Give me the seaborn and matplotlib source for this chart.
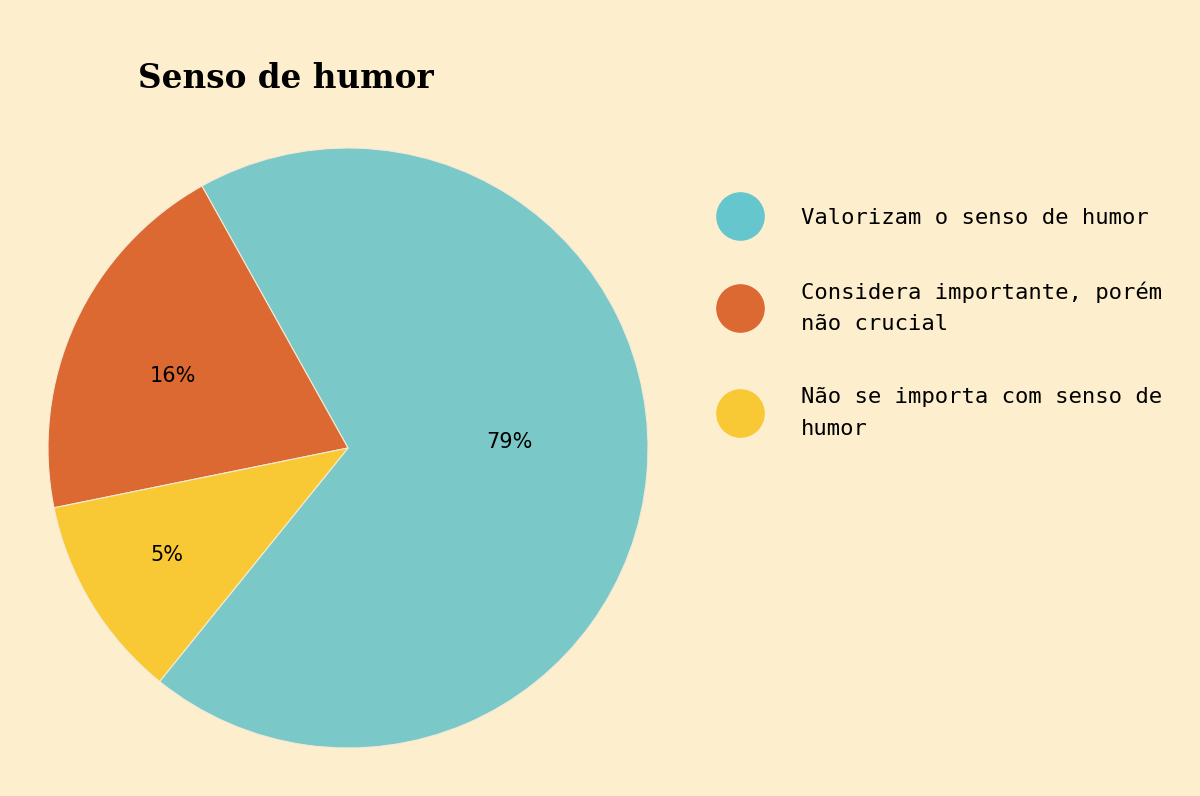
import matplotlib
matplotlib.use("Agg")
import numpy as np
import matplotlib.pyplot as plt
import seaborn as sns
from matplotlib.lines import Line2D

# datos (ángulos de los sectores) y etiquetas mostradas
categorias = ["Valorizam o senso de humor",
              "Considera importante, porém\nnão crucial",
              "Não se importa com senso de\nhumor"]
valores = [68.9, 20.1, 11.0]
etiquetas = ["79%", "16%", "5%"]

colores_pie = ["#7BC8C9", "#DC6832", "#F8C934"]
colores_leyenda = ["#65C6CE", "#DC6832", "#F8C934"]
fondo = "#FDEECE"

sns.set_theme(style="white")
plt.rcParams["font.family"] = ["DejaVu Sans"]
plt.rcParams["text.color"] = "black"

fig = plt.figure(figsize=(12, 7.96), dpi=100, facecolor=fondo)
ax = fig.add_axes([48 / 1200, 48 / 796, 600 / 1200, 600 / 796])
ax.set_facecolor(fondo)

wedges, textos = ax.pie(valores, colors=colores_pie, startangle=231.1,
                        counterclock=True, labels=etiquetas, labeldistance=0.62,
                        wedgeprops=dict(edgecolor="#F3EBD6", linewidth=0.8),
                        textprops=dict(fontsize=15, color="black",
                                       ha="center", va="center"))

# ajuste fino de la posición de las etiquetas dentro de cada sector
dist = [0.54, 0.63, 0.70]
desvio = [7.0, 2.4, -0.7]
for w, t, d, g in zip(wedges, textos, dist, desvio):
    ang = np.deg2rad((w.theta1 + w.theta2) / 2 + g)
    t.set_position((d * np.cos(ang), d * np.sin(ang)))
    t.set_horizontalalignment("center")

ax.set_xlim(-1, 1)
ax.set_ylim(-1, 1)
ax.set_aspect("equal")
ax.axis("off")

fig.text(138 / 1200, 1 - 79 / 796, "Senso de humor", fontsize=23.5,
         fontweight="bold", family="DejaVu Serif", va="center", ha="left",
         color="black")

handles = [Line2D([0], [0], marker="o", linestyle="", markersize=34,
                  markerfacecolor=c, markeredgecolor=c) for c in colores_leyenda]
leg = fig.legend(handles, categorias, loc="upper left",
                 bbox_to_anchor=(703 / 1200, 1 - 188 / 796), frameon=False,
                 prop=dict(family="DejaVu Sans Mono", size=16),
                 labelspacing=2.4, handletextpad=2.0, handlelength=1.5)
for t in leg.get_texts():
    t.set_linespacing(1.7)
    t.set_color("black")

fig.savefig("out.png", dpi=100, facecolor=fondo)
